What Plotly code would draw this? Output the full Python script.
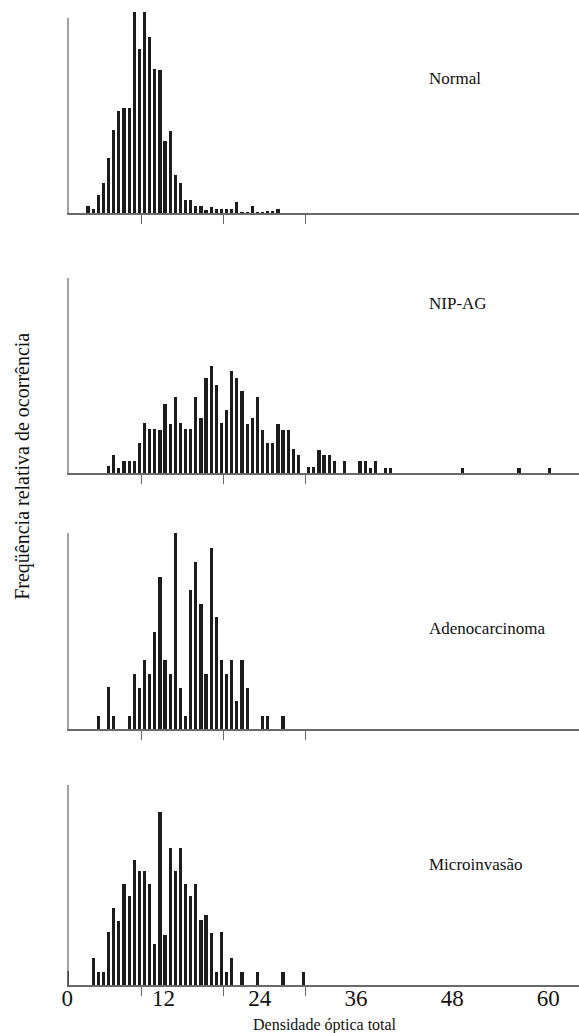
import plotly.graph_objects as go

# ---------------- data ----------------
bin_origin = 0.07      # centre of bin 0 (Densidade óptica total units)
bin_width = 0.64

normal_start = 4
normal = [0.7, 0.4, 1.8, 3.0, 5.5, 8.3, 10.2, 10.5, 10.5, 20.1, 16.4, 20.1, 17.6, 14.4,
          14.3, 7.2, 8.2, 3.8, 3.0, 1.3, 1.3, 0.7, 0.7, 0.3, 0.6, 0.4, 0.4, 0.4, 0.4,
          1.1, 0.1, 0.1, 0.7, 0.1, 0.1, 0.2, 0.2, 0.4]

nipag_start = 8
nipag = [0.7, 1.8, 0.5, 1.2, 1.2, 1.2, 3.0, 5.0, 4.4, 4.4, 4.3, 6.9, 4.9, 7.6, 5.0,
         4.4, 4.4, 7.6, 5.5, 9.5, 10.7, 8.8, 5.0, 6.3, 10.2, 9.5, 8.2, 4.9, 5.5, 7.6,
         4.3, 3.0, 3.0, 4.9, 4.3, 4.3, 2.4, 1.8, 0, 0.6, 0.6, 2.3, 1.8, 1.8, 1.2, 0,
         1.2, 0, 0, 1.2, 1.2, 0.5, 1.2, 0, 0.5, 0.5,
         0, 0, 0, 0, 0, 0, 0, 0, 0, 0, 0, 0, 0, 0.5,
         0, 0, 0, 0, 0, 0, 0, 0, 0, 0, 0.5,
         0, 0, 0, 0, 0, 0.5]

adeno_start = 6
adeno = [1.3, 0, 4.2, 1.3, 0, 0, 1.3, 5.5, 4.1, 6.9, 5.5, 9.7, 15.2, 6.9, 5.5, 19.6,
         4.1, 1.3, 13.9, 16.7, 12.5, 5.5, 18.1, 11.2, 6.9, 5.5, 6.9, 2.8, 6.9, 4.1,
         0, 0, 1.3, 1.3, 0, 0, 1.3]

micro_start = 0
micro = [1.4, 0, 0, 0, 0, 2.7, 1.3, 1.3, 5.3, 7.7, 6.4, 10.1, 8.9, 12.5, 11.4, 11.4,
         10.1, 4.1, 17.3, 5.0, 13.7, 11.4, 13.7, 10.1, 8.9, 10.1, 6.5, 7.0, 5.2, 1.3,
         5.3, 1.3, 2.7, 0, 1.3, 0, 0, 1.3, 0, 0, 0, 0, 1.3, 0, 0, 0, 1.3]

panel_names = ["Normal", "NIP-AG", "Adenocarcinoma", "Microinvasão"]
tick_labels = ["0", "12", "24", "36", "48", "60"]
tick_values = [0, 12, 24, 36, 48, 60]
minor_ticks = [9.26, 19.5, 29.75]

series = [(normal_start, normal), (nipag_start, nipag),
          (adeno_start, adeno), (micro_start, micro)]

# ---------------- layout constants (pixels) ----------------
W, H = 579, 1033
x0_px = 62
px_per_unit = 8.1
x_max = (W - x0_px) / px_per_unit
baselines_px = [213, 473, 729, 985]
panel_h_px = 205
y_top = 20.5
axis_top = [19.5, 19.5, 19.6, 20.0]
label_pos_px = [(425, 78), (425, 304), (425, 628), (425, 864)]

serif = "Liberation Serif, Times New Roman, serif"
ink = "#1c1c1c"
grey = "#6a6a6a"

fig = go.Figure()
layout = dict(width=W, height=H, margin=dict(l=0, r=0, t=0, b=0),
              paper_bgcolor="white", plot_bgcolor="white", showlegend=False,
              bargap=0)
shapes = []
annotations = []

for k, ((start, vals), name, base) in enumerate(zip(series, panel_names, baselines_px), 1):
    xs = [bin_origin + bin_width * (start + i) for i in range(len(vals))]
    fig.add_trace(go.Bar(x=xs, y=vals, width=0.4, marker=dict(color=ink, line=dict(width=0)),
                         xaxis=f"x{k}", yaxis=f"y{k}", hoverinfo="skip"))
    y0 = (H - base) / H
    y1 = (H - (base - panel_h_px)) / H
    layout[f"xaxis{k}"] = dict(domain=[x0_px / W, 1], range=[0, x_max], anchor=f"y{k}",
                               showline=True, linecolor=grey, linewidth=2,
                               ticks="outside", tickvals=minor_ticks, ticklen=9,
                               tickwidth=1, tickcolor=grey, showticklabels=False,
                               showgrid=False, zeroline=False, fixedrange=True)
    layout[f"yaxis{k}"] = dict(domain=[y0, y1], range=[0, y_top], anchor=f"x{k}",
                               visible=False, fixedrange=True)
    shapes.append(dict(type="line", xref=f"x{k}", yref=f"y{k}", x0=0, x1=0,
                       y0=0, y1=axis_top[k - 1], line=dict(color=grey, width=2.5)))
    lx, ly = label_pos_px[k - 1]
    annotations.append(dict(text=name, xref="paper", yref="paper", x=lx / W, y=(H - ly) / H,
                            xanchor="left", yanchor="middle", showarrow=False,
                            font=dict(family=serif, size=17, color="#111")))

# overlay axis carrying the numeric labels under the last panel
fig.add_trace(go.Scatter(x=[None], y=[None], xaxis="x5", yaxis="y4", hoverinfo="skip"))
layout["xaxis5"] = dict(overlaying="x4", anchor="y4", range=[0, x_max],
                        tickvals=tick_values, ticktext=tick_labels, ticks="",
                        ticklabelstandoff=-3,
                        showline=False, showgrid=False, zeroline=False,
                        tickfont=dict(family=serif, size=23, color="#111"), fixedrange=True)

annotations.append(dict(text="Freqüência relativa de ocorrência", xref="paper", yref="paper",
                        x=16 / W, y=(H - 466) / H, textangle=-90, showarrow=False,
                        xanchor="center", yanchor="middle",
                        font=dict(family=serif, size=20, color="#111")))
annotations.append(dict(text="Densidade óptica total", xref="paper", yref="paper",
                        x=322 / W, y=(H - 1025) / H, showarrow=False,
                        xanchor="center", yanchor="middle",
                        font=dict(family=serif, size=16, color="#111")))

layout["shapes"] = shapes
layout["annotations"] = annotations
fig.update_layout(**layout)
fig.write_html("out.html")
